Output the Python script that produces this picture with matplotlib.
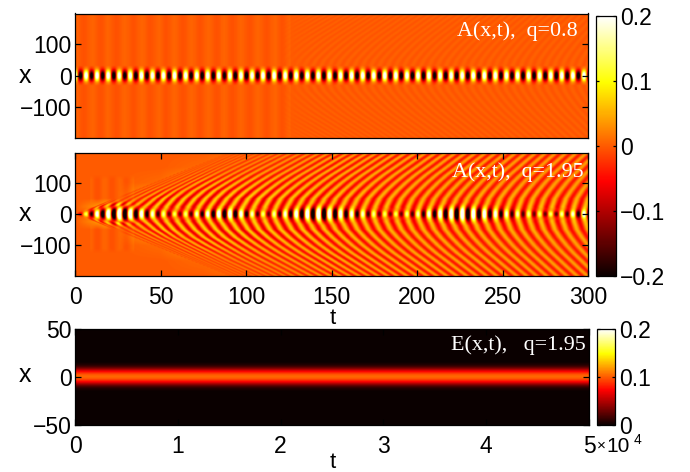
"""Two A(x,t) heat maps and one E(x,t) heat map with shared hot colour scales."""

import matplotlib

matplotlib.use("Agg")
import matplotlib.pyplot as plt
import numpy as np

plt.rcParams["font.family"] = ["Liberation Sans", "DejaVu Sans"]
plt.rcParams["font.size"] = 16.5
plt.rcParams["axes.linewidth"] = 0.9

FIG_W, FIG_H = 690, 472

# Values.
# Centre line (x = 0): times of the alternating extremes, white first.
core_t = [
    -0.2, 3.0, 6.3, 9.5, 12.7, 16.0, 19.2, 22.5, 25.7, 28.9, 32.2, 35.4, 38.7, 41.9, 45.1, 48.4,
    51.6, 54.9, 58.1, 61.3, 64.6, 67.8, 71.1, 74.3, 77.5, 80.8, 84.0, 87.3, 90.5, 93.7, 97.0, 100.2,
    103.5, 106.7, 109.9, 113.2, 116.4, 119.7, 122.9, 126.1, 129.4, 132.6, 135.9, 139.1, 142.3, 145.6,
    148.8, 152.1, 155.3, 158.5, 161.8, 165.0, 168.3, 171.5, 174.7, 178.0, 181.2, 184.5, 187.7, 190.9,
    194.2, 197.4, 200.7, 203.9, 207.1, 210.4, 213.6, 216.9, 220.1, 223.3, 226.6, 229.8, 233.1, 236.3,
    239.5, 242.8, 246.0, 249.3, 252.5, 255.7, 259.0, 262.2, 265.5, 268.7, 271.9, 275.2, 278.4, 281.7,
    284.9, 288.1, 291.4, 294.6, 297.9, 301.1,
]
core2_amp = [
    0.03, 0.08, 0.14, 0.20, 0.24, 0.27, 0.29, 0.30, 0.32, 0.30, 0.28, 0.26, 0.24, 0.22, 0.20, 0.18,
    0.16, 0.15, 0.14, 0.14, 0.15, 0.17, 0.19, 0.21, 0.23, 0.25, 0.27, 0.28, 0.28, 0.26, 0.24, 0.22,
    0.19, 0.17, 0.15, 0.15, 0.17, 0.19, 0.21, 0.23, 0.25, 0.27, 0.29, 0.31, 0.32, 0.31, 0.29, 0.28,
    0.26, 0.24, 0.22, 0.21, 0.19, 0.18, 0.16, 0.15, 0.14, 0.14, 0.14, 0.15, 0.16, 0.17, 0.18, 0.20,
    0.22, 0.24, 0.26, 0.28, 0.30, 0.32, 0.32, 0.31, 0.29, 0.28, 0.26, 0.25, 0.23, 0.22, 0.20, 0.19,
    0.18, 0.17, 0.16, 0.15, 0.15, 0.15, 0.15, 0.16, 0.17, 0.18, 0.20, 0.22, 0.24, 0.24,
]
core1_amp = [0.26] * len(core_t)

# Half height of the centre blobs against time.
width_t = [0, 10, 25, 40, 58, 90, 110, 143, 186, 227, 280, 300]
width2_x = [3, 12, 24, 15, 8, 15, 9, 19, 8, 19, 8, 13]
width1_x = 16

# Time at which one stripe crosses each x level; rows are the stripes.
level_x = [0, 25, 50, 75, 100, 125, 150, 175, 200]
stripe_tau = [0, 10, 25, 50, 75, 100, 150, 200, 250, 300]
stripe_t = [
    [0, 11.4, 22.7, 34.1, 45.5, 56.8, 68.2, 79.5, 90.9],
    [10, 15.2, 24.8, 35.5, 46.6, 57.7, 68.9, 80.1, 91.4],
    [25, 28, 35, 44, 54, 64, 74, 84, 94.3],
    [50, 52, 56, 62, 70, 79, 88, 98, 108],
    [75, 76.5, 80, 85, 92, 99.5, 108, 117, 126],
    [100, 101.4, 104.2, 109.4, 115.5, 122.6, 130.6, 138.5, 147],
    [150, 151.2, 153.6, 158, 163.2, 169.2, 176, 182.8, 190],
    [200, 201, 203.2, 207, 211.6, 216.8, 222.8, 228.7, 235],
    [250, 250.9, 252.7, 256, 259.9, 264.4, 269.5, 274.6, 280],
    [300, 300.8, 302.3, 305.2, 308.6, 312.5, 316.9, 321.3, 326],
]
stripe_period = 6.48
white_tau = 25.7

# Stripe amplitude, panel 2: rows follow amp_x, columns follow amp_t.
amp_t = [0, 25, 50, 75, 100, 150, 200, 250, 300]
amp_x = [0, 25, 50, 100, 150, 200]
stripe_amp = [
    [0, 0.07, 0.08, 0.08, 0.08, 0.07, 0.07, 0.07, 0.07],
    [0, 0.07, 0.07, 0.07, 0.07, 0.06, 0.06, 0.06, 0.06],
    [0, 0.00, 0.07, 0.07, 0.07, 0.06, 0.05, 0.05, 0.05],
    [0, 0.00, 0.01, 0.055, 0.055, 0.05, 0.045, 0.04, 0.04],
    [0, 0.00, 0.00, 0.01, 0.03, 0.05, 0.045, 0.04, 0.04],
    [0, 0.00, 0.00, 0.00, 0.01, 0.04, 0.045, 0.04, 0.04],
]

# Faint vertical bars, panel 1, extremes with alternating sign.
bar1_t = [0, 5, 10, 15, 19, 24, 29, 34, 39, 44, 49, 53, 58, 63, 68, 73, 78, 83, 87, 92, 97, 102, 107, 112, 117, 121, 126]
bar1_amp = 0.005
ripple1_t = [0, 120, 140, 300]
ripple1_amp = [0, 0, 0.004, 0.004]
ripple1_period = 4.9

# Faint bars left of the front, panel 2.
bar2_t = [8.6, 12.9, 17.2, 21.6, 25.8, 30.0, 34.3]
bar2_amp = 0.006

# E(x,t) across the band.
energy_x = [0, 2, 4, 6, 8, 10, 12, 15, 50]
energy_v = [0.105, 0.100, 0.085, 0.065, 0.040, 0.020, 0.008, 0.0, 0.0]

# Blob shape across x, in units of the half height.
blob_r = [0, 0.25, 0.5, 0.75, 1.0, 1.25, 1.5, 2.0]
blob_v = [1, 0.94, 0.78, 0.57, 0.37, 0.20, 0.10, 0]

yticks_a = [-100, 0, 100]
xticks_a = [0, 50, 100, 150, 200, 250, 300]
yticks_e = [-50, 0, 50]
xticks_e = [0, 1, 2, 3, 4, 5]
cticks_a = [-0.2, -0.1, 0, 0.1, 0.2]
cticks_e = [0, 0.1, 0.2]


def px_axes(left, top, right, bottom):
    return fig.add_axes(
        [left / FIG_W, 1 - bottom / FIG_H, (right - left) / FIG_W, (bottom - top) / FIG_H]
    )


def px_text(x, y, s, **kwargs):
    fig.text(x / FIG_W, 1 - y / FIG_H, s, va="center", **kwargs)


def alternating(t, peak_t, peak_v):
    """Smooth line through signed extremes, resampled on t."""
    peak_t = np.asarray(peak_t, dtype=float)
    peak_v = np.asarray(peak_v, dtype=float) * (-1.0) ** np.arange(len(peak_t))
    idx = np.clip(np.searchsorted(peak_t, t) - 1, 0, len(peak_t) - 2)
    s = np.clip((t - peak_t[idx]) / (peak_t[idx + 1] - peak_t[idx]), 0, 1)
    c = np.cos(np.pi * s)
    return peak_v[idx] * (1 + c) / 2 + peak_v[idx + 1] * (1 - c) / 2


def stripe_position(t, x):
    """Stripe label tau on the (x, t) grid, read back from the crossing table."""
    table = np.array(stripe_t)
    tau = np.zeros((len(x), len(t)))
    for i, xi in enumerate(np.abs(x)):
        cross = [np.interp(xi, level_x, row) for row in table]
        tau[i] = np.interp(t, cross, stripe_tau)
    return tau


def amp_lookup(t, x):
    table = np.array(stripe_amp)
    by_t = np.array([np.interp(t, amp_t, row) for row in table])
    out = np.zeros((len(x), len(t)))
    for j in range(len(t)):
        out[:, j] = np.interp(np.abs(x), amp_x, by_t[:, j])
    return out


def core_field(t, x, amp, width):
    line = alternating(t, core_t, amp)
    r = np.abs(x)[:, None] / width
    return line * np.interp(r, blob_r, blob_v)


t_grid = np.linspace(0, 300, 640)
x_grid = np.linspace(-198, 198, 300)
tau = stripe_position(t_grid, x_grid)

# Panel 1: saturated centre line plus faint bars and ripples.
bars1 = alternating(t_grid, bar1_t, [bar1_amp] * len(bar1_t))
bars1[t_grid > 126] = 0
ripple = np.interp(t_grid, ripple1_t, ripple1_amp) * np.cos(2 * np.pi * tau / ripple1_period)
field1 = core_field(t_grid, x_grid, core1_amp, np.full_like(t_grid, width1_x))
field1 = field1 + bars1 + ripple

# Panel 2: modulated centre line plus the fan of stripes.
width2 = np.interp(t_grid, width_t, width2_x)
stripes = amp_lookup(t_grid, x_grid) * np.cos(2 * np.pi * (tau - white_tau) / stripe_period)
stripe_rows = np.interp(np.abs(x_grid), [0, 22], [0, 1])[:, None]
bars2 = alternating(t_grid, bar2_t, [bar2_amp] * len(bar2_t))
bars2[(t_grid < 8.6) | (t_grid > 34.3)] = 0
bar_rows = np.interp(np.abs(x_grid), [0, 30, 45, 110, 125, 200], [0, 0, 1, 1, 0, 0])[:, None]
field2 = core_field(t_grid, x_grid, core2_amp, width2) + stripes * stripe_rows + bars2 * bar_rows

# Panel 3: steady band.
x_e = np.linspace(-50, 50, 200)
field3 = np.tile(np.interp(np.abs(x_e), energy_x, energy_v)[:, None], (1, 2))

fig = plt.figure(figsize=(FIG_W / 100, FIG_H / 100), dpi=100)

ax1 = px_axes(75, 13.5, 588, 138)
ax2 = px_axes(75, 152.5, 588, 276)
ax3 = px_axes(75, 329, 589, 425)

extent_a = [0, 300, -198, 198]
im1 = ax1.imshow(field1, cmap="hot", vmin=-0.2, vmax=0.2, origin="lower", aspect="auto",
                 extent=extent_a, interpolation="bilinear")
ax2.imshow(field2, cmap="hot", vmin=-0.2, vmax=0.2, origin="lower", aspect="auto",
           extent=extent_a, interpolation="bilinear")
im3 = ax3.imshow(field3, cmap="hot", vmin=0, vmax=0.2, origin="lower", aspect="auto",
                 extent=[0, 5, -50, 50], interpolation="bilinear")

for ax in (ax1, ax2):
    ax.set_yticks(yticks_a)
    ax.set_yticklabels(["\u2212100", "0", "100"])
ax1.set_xticks([])
ax2.set_xticks(xticks_a)
ax3.set_xticks(xticks_e)
ax3.set_yticks(yticks_e)
ax3.set_yticklabels(["\u221250", "0", "50"])
for ax in (ax1, ax2, ax3):
    ax.tick_params(direction="in", length=4, width=0.9, top=True, right=True)
    ax.tick_params(axis="x", pad=7)
    ax.tick_params(axis="y", pad=2.5)

cax1 = px_axes(596, 16, 616, 276)
cb1 = fig.colorbar(im1, cax=cax1, ticks=cticks_a)
cb1.ax.set_yticklabels(["\u22120.2", "\u22120.1", "0", "0.1", "0.2"])
cax3 = px_axes(597, 329, 615, 425)
cb3 = fig.colorbar(im3, cax=cax3, ticks=cticks_e)
cb3.ax.set_yticklabels(["0", "0.1", "0.2"])
for cb in (cb1, cb3):
    cb.ax.tick_params(direction="in", length=2.5, width=0.9, left=True, right=True, pad=3)
    cb.outline.set_linewidth(0.9)

# Axis labels sit at fixed places in the reference.
for y in (76, 214, 375):
    px_text(25, y, "x", ha="center", fontsize=18)
px_text(333, 318, "t", ha="center", fontsize=16)
px_text(333, 463, "t", ha="center", fontsize=16)

serif = dict(family="Liberation Serif", color="white", fontsize=15.8, ha="right")
px_text(578, 31, "A(x,t),  q=0.8", **serif)
px_text(584, 172, "A(x,t),  q=1.95", **serif)
px_text(586, 345, "E(x,t),   q=1.95", **serif)

# Multiplier after the last tick label.
px_text(597, 446, "\u00d7", ha="left", fontsize=11)
px_text(606, 447, "10", ha="left", fontsize=15)
px_text(634, 440, "4", ha="left", fontsize=10)

fig.savefig("out.png", dpi=100)
